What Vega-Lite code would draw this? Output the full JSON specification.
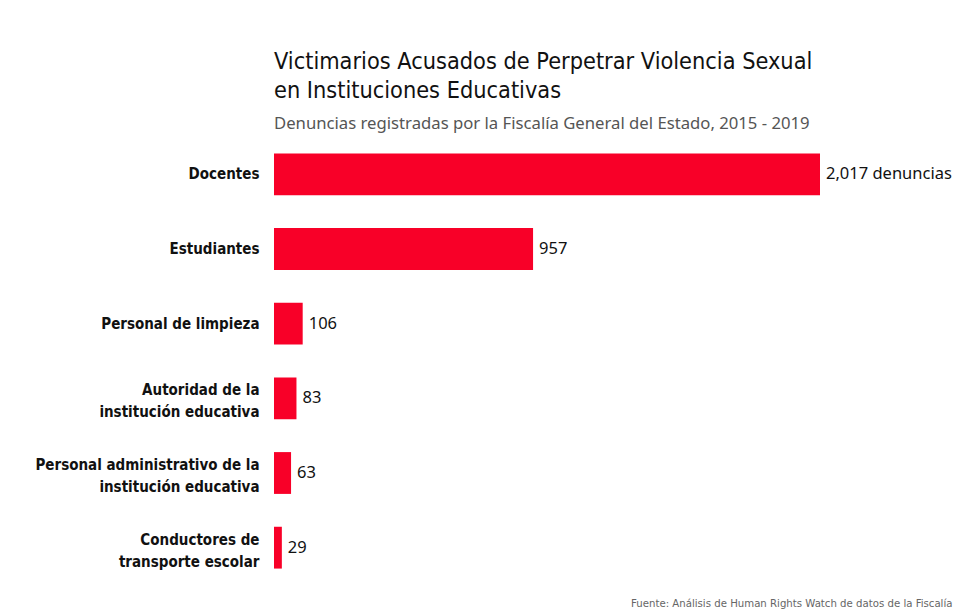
{
  "$schema": "https://vega.github.io/schema/vega-lite/v6.json",
  "autosize": {"type": "none"},
  "width": 546,
  "height": 448,
  "padding": {"left": 274, "top": 137, "right": 140, "bottom": 25},
  "background": "#ffffff",
  "title": {
    "text": ["Victimarios Acusados de Perpetrar Violencia Sexual", "en Instituciones Educativas"],
    "subtitle": "Denuncias registradas por la Fiscalía General del Estado, 2015 - 2019",
    "anchor": "start",
    "frame": "group",
    "font": "Liberation Sans Narrow, DejaVu Sans Condensed, sans-serif",
    "fontSize": 23.3,
    "fontWeight": "normal",
    "lineHeight": 29,
    "color": "#111111",
    "subtitleFont": "Noto Sans, DejaVu Sans, sans-serif",
    "subtitleFontSize": 16.7,
    "subtitleColor": "#555555",
    "subtitlePadding": 13,
    "offset": 3
  },
  "data": {
    "values": [
      {"cat": "Docentes", "value": 2017, "label": "2,017 denuncias"},
      {"cat": "Estudiantes", "value": 957, "label": "957"},
      {"cat": "Personal de limpieza", "value": 106, "label": "106"},
      {"cat": "Autoridad de la|institución educativa", "value": 83, "label": "83"},
      {"cat": "Personal administrativo de la|institución educativa", "value": 63, "label": "63"},
      {"cat": "Conductores de|transporte escolar", "value": 29, "label": "29"}
    ]
  },
  "encoding": {
    "y": {
      "field": "cat",
      "type": "nominal",
      "sort": {"field": "value", "order": "descending"},
      "scale": {"paddingInner": 0.44, "paddingOuter": 0.22},
      "axis": {
        "title": null,
        "domain": false,
        "ticks": false,
        "labelExpr": "split(datum.value, '|')",
        "labelFont": "DejaVu Sans Condensed, sans-serif",
        "labelFontWeight": "bold",
        "labelFontSize": 15,
        "labelLineHeight": 22,
        "labelColor": "#111111",
        "labelPadding": 15,
        "labelLimit": 300,
        "labelOffset": {"condition": {"test": "indexof(datum.value, '|') >= 0", "value": -8}, "value": 0}
      }
    },
    "x": {
      "field": "value",
      "type": "quantitative",
      "scale": {"domain": [0, 2017], "nice": false},
      "axis": {
        "domain": false,
        "ticks": false,
        "labels": false,
        "grid": false,
        "title": "Fuente: Análisis de Human Rights Watch de datos de la Fiscalía",
        "titleFont": "Liberation Sans Narrow, DejaVu Sans Condensed, sans-serif",
        "titleFontSize": 11.3,
        "titleFontWeight": "normal",
        "titleColor": "#666666",
        "titleAnchor": "end",
        "titleAlign": "right",
        "titleBaseline": "alphabetic",
        "titleX": 678,
        "titleY": 21
      }
    }
  },
  "layer": [
    {"mark": {"type": "bar", "color": "#f80028"}},
    {
      "mark": {
        "type": "text",
        "align": "left",
        "baseline": "middle",
        "dx": 6,
        "font": "Noto Sans, DejaVu Sans, sans-serif",
        "fontSize": 16.5,
        "color": "#111111"
      },
      "encoding": {"text": {"field": "label"}}
    }
  ],
  "config": {"view": {"stroke": null}}
}
